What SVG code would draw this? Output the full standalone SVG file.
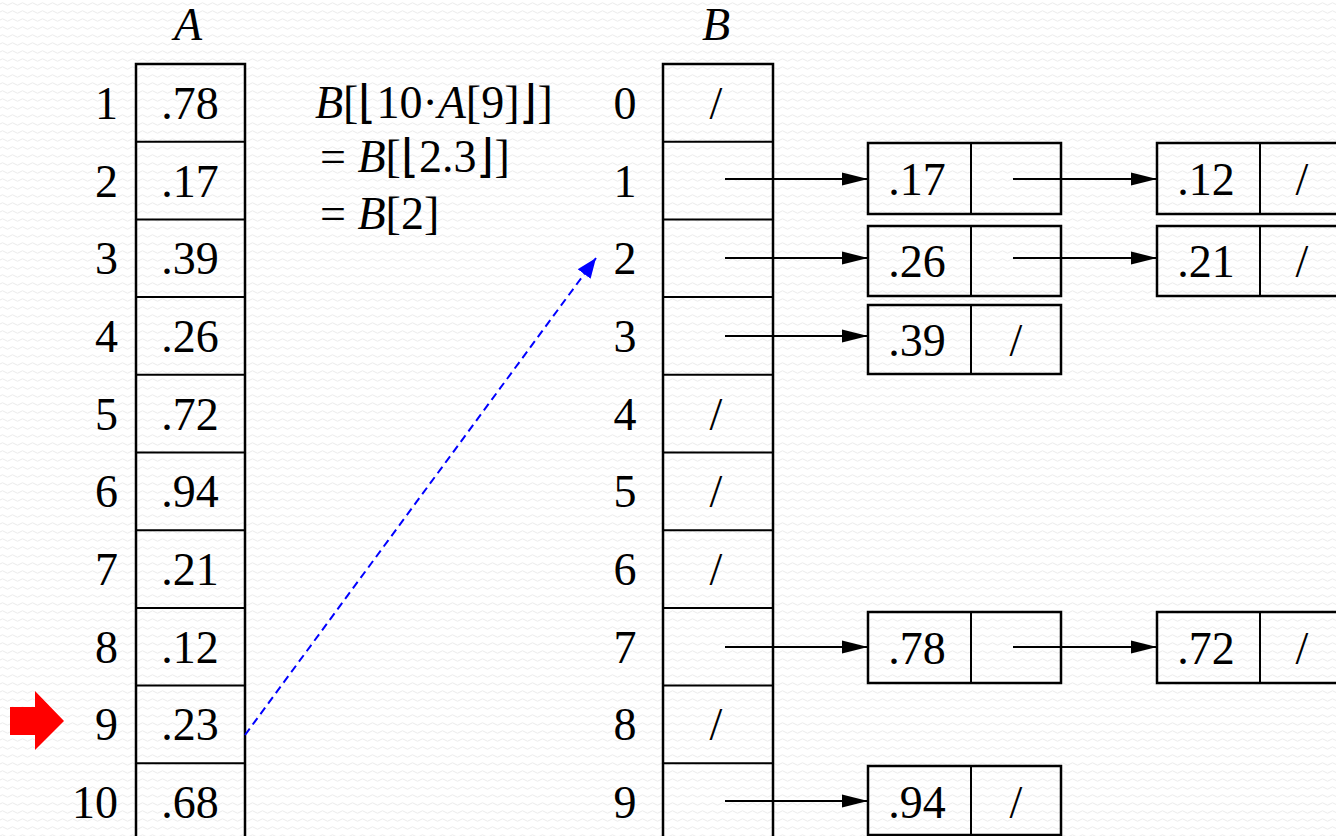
<svg xmlns="http://www.w3.org/2000/svg" width="1336" height="836" viewBox="0 0 1336 836">
<defs>
<pattern id="bg" width="10" height="8" patternUnits="userSpaceOnUse">
<path d="M0,4 Q2.5,1.5 5,4 T10,4" fill="none" stroke="#ebebeb" stroke-width="1"/>
</pattern>
<marker id="ah" markerWidth="28" markerHeight="16" refX="26" refY="8" orient="auto" markerUnits="userSpaceOnUse">
<path d="M0,1.5 L26,8 L0,14.5 Z" fill="#000"/>
</marker>
<marker id="bh" markerWidth="22" markerHeight="20" refX="20" refY="10" orient="auto" markerUnits="userSpaceOnUse">
<path d="M0,2 L20,10 L0,18 Z" fill="#0000ff"/>
</marker>
</defs>
<style>
text{font-family:'Liberation Serif','Times New Roman',serif;font-size:46px;fill:#000}
.m{text-anchor:middle}
.e{text-anchor:end}
.i{font-style:italic}
.box{fill:none;stroke:#000;stroke-width:2.5}
.ln{stroke:#000;stroke-width:2;fill:none}
</style>
<rect width="1336" height="836" fill="#fff"/>
<rect width="1336" height="836" fill="url(#bg)"/>

<g id="labels">
<text class="m i" x="188" y="40">A</text>
<text class="m i" x="716" y="40">B</text>
</g>

<g id="arrayA">
<rect class="box" x="136" y="64" width="109" height="790"/>
<path class="ln" stroke-width="2.5" d="M136,141.7H245M136,219.4H245M136,297.1H245M136,374.8H245M136,452.5H245M136,530.2H245M136,607.9H245M136,685.6H245M136,763.3H245"/>
<text class="e" x="118" y="119">1</text>
<text class="e" x="118" y="197">2</text>
<text class="e" x="118" y="274">3</text>
<text class="e" x="118" y="352">4</text>
<text class="e" x="118" y="430">5</text>
<text class="e" x="118" y="507">6</text>
<text class="e" x="118" y="585">7</text>
<text class="e" x="118" y="663">8</text>
<text class="e" x="118" y="740">9</text>
<text class="e" x="118" y="818">10</text>
<text class="m" x="190" y="119">.78</text>
<text class="m" x="190" y="197">.17</text>
<text class="m" x="190" y="274">.39</text>
<text class="m" x="190" y="352">.26</text>
<text class="m" x="190" y="430">.72</text>
<text class="m" x="190" y="507">.94</text>
<text class="m" x="190" y="585">.21</text>
<text class="m" x="190" y="663">.12</text>
<text class="m" x="190" y="740">.23</text>
<text class="m" x="190" y="818">.68</text>
</g>

<g id="arrayB">
<rect class="box" x="663" y="64" width="110" height="790"/>
<path class="ln" stroke-width="2.5" d="M663,141.7H773M663,219.4H773M663,297.1H773M663,374.8H773M663,452.5H773M663,530.2H773M663,607.9H773M663,685.6H773M663,763.3H773"/>
<text class="m" x="625" y="119">0</text>
<text class="m" x="625" y="197">1</text>
<text class="m" x="625" y="274">2</text>
<text class="m" x="625" y="352">3</text>
<text class="m" x="625" y="430">4</text>
<text class="m" x="625" y="507">5</text>
<text class="m" x="625" y="585">6</text>
<text class="m" x="625" y="663">7</text>
<text class="m" x="625" y="740">8</text>
<text class="m" x="625" y="818">9</text>
<text class="m" x="716" y="119">/</text>
<text class="m" x="716" y="430">/</text>
<text class="m" x="716" y="507">/</text>
<text class="m" x="716" y="585">/</text>
<text class="m" x="716" y="740">/</text>
</g>

<g id="formula">
<text x="315" y="118"><tspan class="i">B</tspan>[⌊10·<tspan class="i">A</tspan>[9]⌋]</text>
<text x="320" y="172">= <tspan class="i">B</tspan>[⌊2.3⌋]</text>
<text x="320" y="229">= <tspan class="i">B</tspan>[2]</text>
</g>

<g id="n1a"><rect class="box" x="868" y="143" width="193" height="71"/><line class="ln" stroke-width="2.5" x1="971" y1="143" x2="971" y2="214"/><text class="m" x="917" y="195">.17</text></g>
<g id="n1b"><rect class="box" x="1157" y="143" width="193" height="71"/><line class="ln" stroke-width="2.5" x1="1260" y1="143" x2="1260" y2="214"/><text class="m" x="1206" y="195">.12</text><text class="m" x="1302" y="195">/</text></g>
<g id="n2a"><rect class="box" x="868" y="226" width="193" height="70"/><line class="ln" stroke-width="2.5" x1="971" y1="226" x2="971" y2="296"/><text class="m" x="917" y="277">.26</text></g>
<g id="n2b"><rect class="box" x="1157" y="226" width="193" height="70"/><line class="ln" stroke-width="2.5" x1="1260" y1="226" x2="1260" y2="296"/><text class="m" x="1206" y="277">.21</text><text class="m" x="1302" y="277">/</text></g>
<g id="n3a"><rect class="box" x="868" y="305" width="193" height="69"/><line class="ln" stroke-width="2.5" x1="971" y1="305" x2="971" y2="374"/><text class="m" x="917" y="356">.39</text><text class="m" x="1016" y="356">/</text></g>
<g id="n7a"><rect class="box" x="868" y="612" width="193" height="71"/><line class="ln" stroke-width="2.5" x1="971" y1="612" x2="971" y2="683"/><text class="m" x="917" y="664">.78</text></g>
<g id="n7b"><rect class="box" x="1157" y="612" width="193" height="71"/><line class="ln" stroke-width="2.5" x1="1260" y1="612" x2="1260" y2="683"/><text class="m" x="1206" y="664">.72</text><text class="m" x="1302" y="664">/</text></g>
<g id="n9a"><rect class="box" x="868" y="766" width="193" height="69"/><line class="ln" stroke-width="2.5" x1="971" y1="766" x2="971" y2="835"/><text class="m" x="917" y="818">.94</text><text class="m" x="1016" y="818">/</text></g>

<g id="connectors">
<line class="ln" x1="725" y1="179" x2="868" y2="179" marker-end="url(#ah)"/>
<line class="ln" x1="1013" y1="179" x2="1157" y2="179" marker-end="url(#ah)"/>
<line class="ln" x1="725" y1="258" x2="868" y2="258" marker-end="url(#ah)"/>
<line class="ln" x1="1013" y1="258" x2="1157" y2="258" marker-end="url(#ah)"/>
<line class="ln" x1="725" y1="336" x2="868" y2="336" marker-end="url(#ah)"/>
<line class="ln" x1="725" y1="647" x2="868" y2="647" marker-end="url(#ah)"/>
<line class="ln" x1="1013" y1="647" x2="1157" y2="647" marker-end="url(#ah)"/>
<line class="ln" x1="725" y1="801" x2="868" y2="801" marker-end="url(#ah)"/>
<line x1="245" y1="735" x2="596" y2="258" stroke="#0000ff" stroke-width="2" stroke-dasharray="8,5" marker-end="url(#bh)"/>
</g>

<g id="pointer">
<path d="M10,707 H35 V691 L64,721 L35,750 V735 H10 Z" fill="#ff0000"/>
</g>
</svg>
